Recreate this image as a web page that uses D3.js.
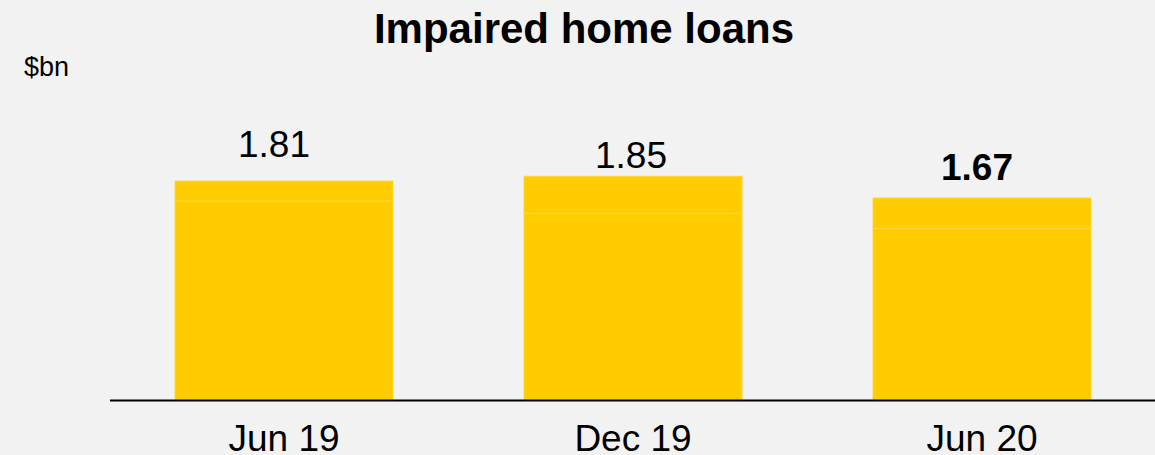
<!DOCTYPE html>
<html><head><meta charset="utf-8">
<script src="https://cdn.jsdelivr.net/npm/d3@7"></script>
<style>
html,body{margin:0;padding:0;background:#f2f2f2;}
svg{display:block;font-family:"Liberation Sans",Arial,sans-serif;}
</style></head>
<body><svg id="c" width="1155" height="455"></svg>
<script>
const categories = ["Jun 19", "Dec 19", "Jun 20"];
const totals = [1.81, 1.85, 1.67];
const lowerSegment = [1.645, 1.545, 1.42];
const upperSegment = [0.165, 0.305, 0.25];
const valueLabels = ["1.81", "1.85", "1.67"];
const boldLabel = [false, false, true];

const W = 1155, H = 455;
const svg = d3.select("#c");
svg.append("rect").attr("width", W).attr("height", H).attr("fill", "#f2f2f2");

const x = d3.scaleBand().domain(categories).range([109.5, 1156.5]).paddingInner(0.375).paddingOuter(0.1875);
const y = d3.scaleLinear().domain([0, 1]).range([400, 279]);

const data = categories.map((c, i) => ({c, lo: lowerSegment[i], hi: upperSegment[i], total: totals[i], label: valueLabels[i], bold: boldLabel[i]}));
const stack = d3.stack().keys(["lo", "hi"])(data);

const g = svg.append("g");
stack.forEach(layer => {
  g.selectAll(null).data(layer).enter().append("rect")
    .attr("x", d => x(d.data.c))
    .attr("width", x.bandwidth())
    .attr("y", d => y(d[1]))
    .attr("height", d => y(d[0]) - y(d[1]))
    .attr("fill", "#ffcc00")
    .attr("stroke", "#ffd84d")
    .attr("stroke-width", 0.8);
});

// axis
const axis = d3.axisBottom(x).tickSize(0).tickPadding(0);
const ax = svg.append("g").attr("transform", "translate(0,400)").call(axis);
ax.select(".domain").attr("d", "M110,0.5H1155").attr("stroke", "#000").attr("stroke-width", 2);
ax.selectAll(".tick text").attr("font-size", 37).attr("fill", "#000").attr("dy", null).attr("y", 51)
  .attr("font-family", "Liberation Sans, Arial, sans-serif");

const labelOffsets = [24, 8, 18];
const labelShift = [-10, -2, -5];
svg.selectAll(".vl").data(data).enter().append("text")
  .attr("x", (d, i) => x(d.c) + x.bandwidth() / 2 + labelShift[i])
  .attr("y", (d, i) => y(d.total) - labelOffsets[i])
  .attr("text-anchor", "middle")
  .attr("font-size", 37)
  .attr("font-weight", d => d.bold ? "bold" : "normal")
  .attr("fill", "#000")
  .text(d => d.label);

svg.append("text").attr("x", 584).attr("y", 43).attr("text-anchor", "middle")
  .attr("font-size", 42).attr("font-weight", "bold").text("Impaired home loans");
svg.append("text").attr("x", 24).attr("y", 76).attr("font-size", 27).text("$bn");
</script></body></html>
